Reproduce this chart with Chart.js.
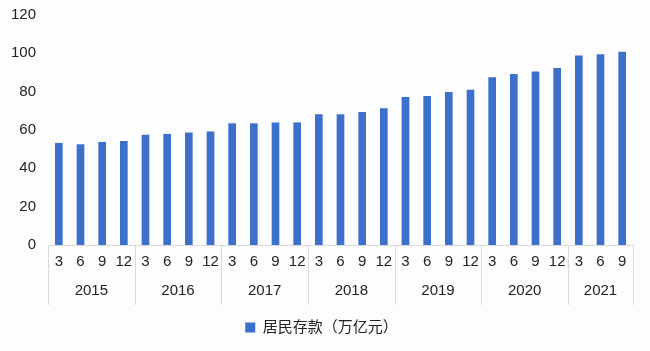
<!DOCTYPE html>
<html>
<head>
<meta charset="utf-8">
<script src="https://cdn.jsdelivr.net/npm/chart.js@4"></script>
<style>
  html, body { margin: 0; padding: 0; background: #fdfdfd; }
  #wrap { width: 650px; height: 351px; }
</style>
</head>
<body>
<div id="wrap"><canvas id="myChart" width="650" height="351"></canvas></div>
<script>
// data
const years = ['2015', '2016', '2017', '2018', '2019', '2020', '2021'];
const yearCounts = [4, 4, 4, 4, 4, 4, 3];
const months = ['3', '6', '9', '12', '3', '6', '9', '12', '3', '6', '9', '12', '3', '6', '9', '12',
  '3', '6', '9', '12', '3', '6', '9', '12', '3', '6', '9'];
const deposits = [53.1, 52.4, 53.6, 54.1, 57.3, 57.8, 58.5, 59.0, 63.3, 63.3, 63.8, 63.8,
  68.0, 68.0, 69.2, 71.2, 77.1, 77.6, 79.6, 80.8, 87.3, 89.0, 90.4, 92.2, 98.7, 99.4, 100.6];
const seriesName = '居民存款（万亿元）';

const fontFamily = '"Liberation Sans", Arial, "Noto Sans CJK SC", sans-serif';
const textColor = '#222';
const lineColor = '#d9d9d9';

// year row + separators under the month labels
const yearRow = {
  id: 'yearRow',
  afterDraw(chart) {
    const ctx = chart.ctx;
    const x = chart.scales.x;
    const half = (x.getPixelForValue(1) - x.getPixelForValue(0)) / 2;
    const top = chart.chartArea.bottom;
    const bottom = top + 60;
    ctx.save();
    ctx.strokeStyle = lineColor;
    ctx.lineWidth = 1;
    ctx.fillStyle = textColor;
    ctx.font = '15px ' + fontFamily;
    ctx.textAlign = 'center';
    ctx.textBaseline = 'middle';
    let start = 0;
    years.forEach((yr, i) => {
      const end = start + yearCounts[i] - 1;
      const left = x.getPixelForValue(start) - half;
      const right = x.getPixelForValue(end) + half;
      ctx.beginPath();
      ctx.moveTo(Math.round(left) + 0.5, top);
      ctx.lineTo(Math.round(left) + 0.5, bottom);
      ctx.stroke();
      if (i === years.length - 1) {
        ctx.beginPath();
        ctx.moveTo(Math.round(right) + 0.5, top);
        ctx.lineTo(Math.round(right) + 0.5, bottom);
        ctx.stroke();
      }
      ctx.fillText(yr, (left + right) / 2, top + 46);
      start = end + 1;
    });
    ctx.restore();
  }
};

new Chart(document.getElementById('myChart'), {
  type: 'bar',
  data: {
    labels: months,
    datasets: [{
      label: seriesName,
      data: deposits,
      backgroundColor: '#3d6fcc',
      barThickness: 7
    }]
  },
  options: {
    responsive: false,
    animation: false,
    layout: { padding: { top: 15, right: 17, bottom: 6, left: 10 } },
    plugins: {
      tooltip: { enabled: false },
      legend: {
        position: 'bottom',
        labels: {
          boxWidth: 10,
          boxHeight: 10,
          padding: 10,
          color: textColor,
          font: { family: fontFamily, size: 15 }
        }
      }
    },
    scales: {
      x: {
        grid: { display: false, drawTicks: false },
        border: { display: true, color: lineColor },
        ticks: {
          color: textColor,
          padding: 8,
          maxRotation: 0,
          autoSkip: false,
          font: { family: fontFamily, size: 15 }
        },
        afterFit(scale) { scale.height = 65; }
      },
      y: {
        min: 0,
        max: 120,
        grid: { display: false, drawTicks: false },
        border: { display: false },
        ticks: {
          stepSize: 20,
          color: textColor,
          padding: 12,
          font: { family: fontFamily, size: 15 }
        },
        afterFit(scale) {
          scale.width = 38;
          scale.paddingTop = 0;
          scale.paddingBottom = 0;
        }
      }
    }
  },
  plugins: [yearRow]
});
</script>
</body>
</html>
